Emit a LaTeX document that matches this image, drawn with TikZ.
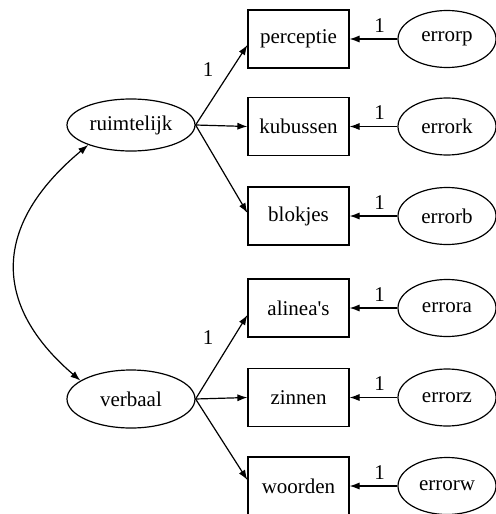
\documentclass[tikz,border=0pt]{standalone}
\usepackage{fontspec}
\setmainfont{Liberation Serif}[Ligatures=TeXOff]
\usetikzlibrary{shapes.geometric,arrows.meta}
\begin{document}
\begin{tikzpicture}[x=0.5pt,y=-0.5pt,
  every node/.style={font=\fontsize{10.5}{12}\selectfont},
  obs/.style={draw,line width=0.6pt,minimum width=50.5pt,minimum height=29pt,inner sep=0pt},
  lat/.style={draw,ellipse,line width=0.6pt,minimum width=64pt,minimum height=26pt,inner sep=0pt},
  err/.style={draw,ellipse,line width=0.6pt,minimum width=49pt,minimum height=28.5pt,inner sep=0pt},
  conn/.style={-{Latex[length=5pt,width=3.6pt]},line width=0.6pt},
  biconn/.style={{Latex[length=5pt,width=3.6pt]}-{Latex[length=5pt,width=3.6pt]},line width=0.6pt},
  lbl/.style={inner sep=0pt}]
\useasboundingbox (0,0) rectangle (495,514);

% observed variables
\node[obs] (perc) at (298.5,39) {perceptie};
\node[obs] (kub)  at (298.5,126.5) {kubussen};
\node[obs] (blok) at (298.5,216) {blokjes};
\node[obs] (alin) at (298.5,308) {alinea's};
\node[obs] (zinn) at (298.5,397.5) {zinnen};
\node[obs] (woord) at (298.5,486) {woorden};

% error terms
\node[err] (errp) at (447,39) {errorp};
\node[err] (errk) at (447,126.5) {errork};
\node[err] (errb) at (447,216) {errorb};
\node[err] (erra) at (447,308) {errora};
\node[err] (errz) at (447,397.5) {errorz};
\node[err] (errw) at (447,486) {errorw};

% latent variables
\node[lat] (ruim) at (131,125) {ruimtelijk};
\node[lat,minimum height=29pt] (verb) at (131,399) {verbaal};

% loadings
\draw[conn] (ruim.east) -- ([yshift=-3pt]perc.west);
\draw[conn] (ruim.east) -- (kub.west);
\draw[conn] (ruim.east) -- ([yshift=1.5pt]blok.west);
\draw[conn] (verb.east) -- ([yshift=-3.5pt]alin.west);
\draw[conn] (verb.east) -- (zinn.west);
\draw[conn] (verb.east) -- ([yshift=3pt]woord.west);
\node[lbl] (l1) at (208,70) {1};
\node[lbl] (l2) at (208,338) {1};

% error paths
\foreach \e/\o in {errp/perc,errk/kub,errb/blok,erra/alin,errz/zinn,errw/woord}{
  \draw[conn] (\e.west) -- (\o.east) node[lbl,pos=0.37,above=3pt] {1};
}

% covariance
\draw[biconn] (ruim.205) .. controls (-8,225) and (-8,305) .. (verb.160);
\end{tikzpicture}
\end{document}
